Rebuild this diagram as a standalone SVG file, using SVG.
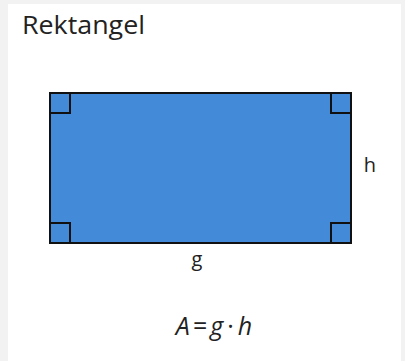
<svg xmlns="http://www.w3.org/2000/svg" width="405" height="361" viewBox="0 0 405 361">
<style>
.lbl{font-family:"Open Sans","Liberation Sans",sans-serif;fill:#222}
.box{fill:#438AD9;stroke:#111;stroke-width:2}
.corner{fill:none;stroke:#111;stroke-width:2}
</style>
<rect x="0" y="0" width="405" height="361" fill="#f2f2f2"/>
<rect x="8" y="4" width="393" height="357" fill="#ffffff"/>
<text class="lbl" x="22" y="34" font-size="25" textLength="123" lengthAdjust="spacingAndGlyphs" fill="#1f2f3f">Rektangel</text>
<g id="rectangle">
<rect class="box" x="50" y="93" width="301" height="150"/>
<path class="corner" d="M50,113 H70 V93 M331,93 V113 H351 M50,223 H70 V243 M331,243 V223 H351"/>
</g>
<g id="label-g"><text class="lbl" x="197" y="266" font-size="20" text-anchor="middle">g</text></g>
<g id="label-h"><text class="lbl" x="370" y="172" font-size="20" text-anchor="middle">h</text></g>
<g id="formula"><text class="lbl" x="214" y="335" font-size="25" font-style="italic" text-anchor="middle">A<tspan font-style="normal" dx="3">=</tspan><tspan dx="3">g</tspan><tspan font-style="normal" dx="4">·</tspan><tspan dx="4">h</tspan></text></g>
<g id="connectors"/>
</svg>
